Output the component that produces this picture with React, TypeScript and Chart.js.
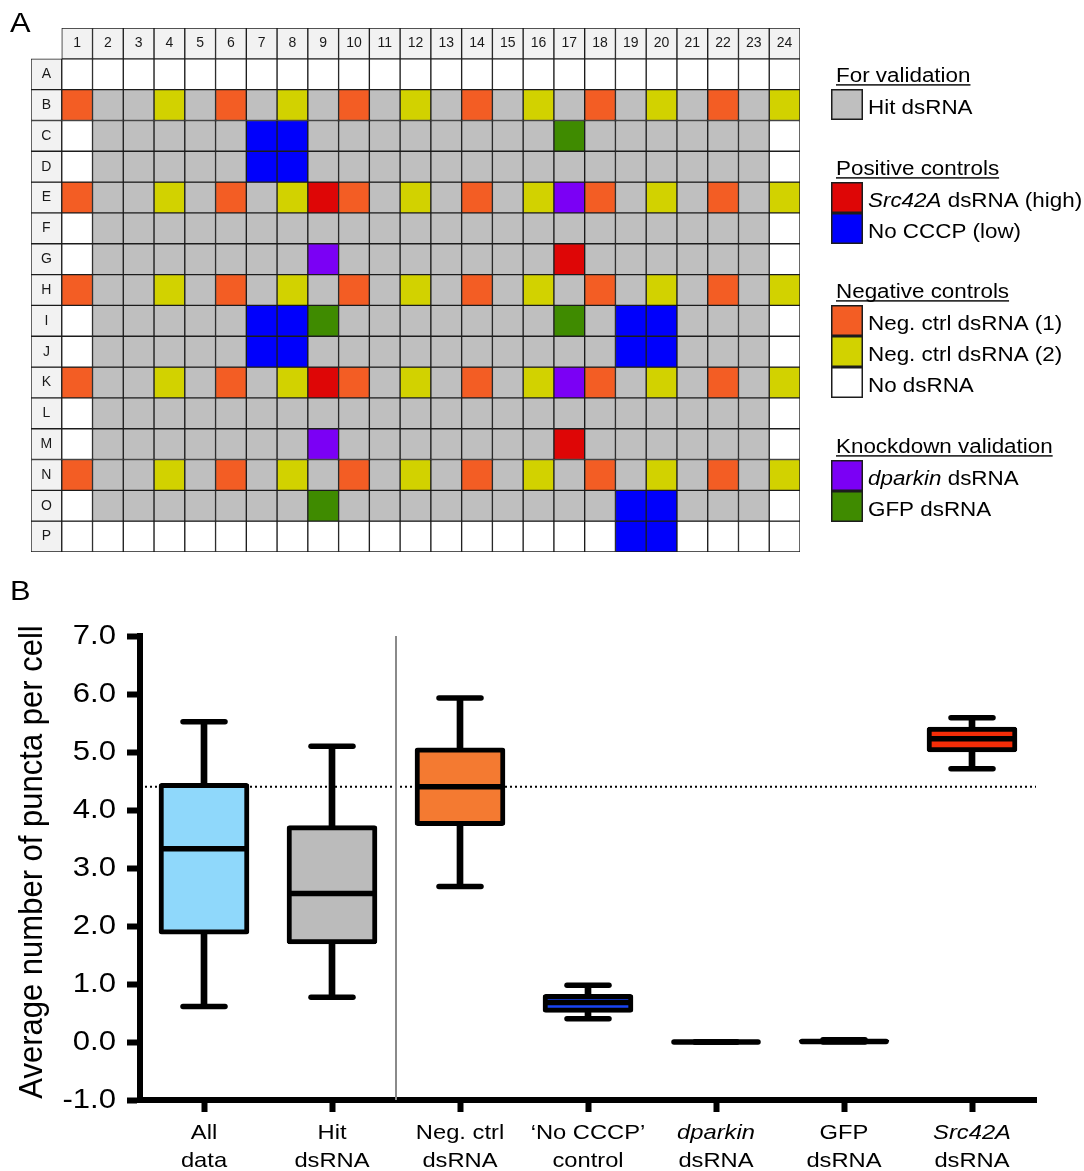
import React, { useEffect, useRef } from 'react';
import { Chart, registerables } from 'chart.js';

Chart.register(...registerables);

const FONT = '"Liberation Sans", Arial, Helvetica, sans-serif';
const STRETCH = 1.12;

// ---------------- Panel A: 384-well plate layout ----------------
const PLATE_COLUMNS = ['1', '2', '3', '4', '5', '6', '7', '8', '9', '10', '11', '12', '13', '14', '15', '16', '17', '18', '19', '20', '21', '22', '23', '24'];
const PLATE_ROWS = ['A', 'B', 'C', 'D', 'E', 'F', 'G', 'H', 'I', 'J', 'K', 'L', 'M', 'N', 'O', 'P'];
// w = no dsRNA, h = hit dsRNA, o = neg ctrl (1), y = neg ctrl (2), r = Src42A, b = No CCCP, p = dparkin, g = GFP
const PLATE_LAYOUT = [
  'w w w w w w w w w w w w w w w w w w w w w w w w', // A
  'o h h y h o h y h o h y h o h y h o h y h o h y', // B
  'w h h h h h b b h h h h h h h h g h h h h h h w', // C
  'w h h h h h b b h h h h h h h h h h h h h h h w', // D
  'o h h y h o h y r o h y h o h y p o h y h o h y', // E
  'w h h h h h h h h h h h h h h h h h h h h h h w', // F
  'w h h h h h h h p h h h h h h h r h h h h h h w', // G
  'o h h y h o h y h o h y h o h y h o h y h o h y', // H
  'w h h h h h b b g h h h h h h h g h b b h h h w', // I
  'w h h h h h b b h h h h h h h h h h b b h h h w', // J
  'o h h y h o h y r o h y h o h y p o h y h o h y', // K
  'w h h h h h h h h h h h h h h h h h h h h h h w', // L
  'w h h h h h h h p h h h h h h h r h h h h h h w', // M
  'o h h y h o h y h o h y h o h y h o h y h o h y', // N
  'w h h h h h h h g h h h h h h h h h b b h h h w', // O
  'w w w w w w w w w w w w w w w w w w b b w w w w', // P
];
const WELL_COLORS: Record<string, string> = {
  w: '#ffffff',
  h: '#bfbfbf',
  o: '#f35d24',
  y: '#d2d200',
  r: '#de0606',
  b: '#0000fc',
  p: '#7b00f5',
  g: '#3f8b00',
};
const HEADER_COLOR = '#f2f2f2';

type Seg = { text: string; italic?: boolean };

const LEGEND_TITLES = ['For validation', 'Positive controls', 'Negative controls', 'Knockdown validation'];
const LEGEND_ITEMS: { code: string; label: Seg[] }[][] = [
  [{ code: 'h', label: [{ text: 'Hit dsRNA' }] }],
  [
    { code: 'r', label: [{ text: 'Src42A', italic: true }, { text: ' dsRNA (high)' }] },
    { code: 'b', label: [{ text: 'No CCCP (low)' }] },
  ],
  [
    { code: 'o', label: [{ text: 'Neg. ctrl dsRNA (1)' }] },
    { code: 'y', label: [{ text: 'Neg. ctrl dsRNA (2)' }] },
    { code: 'w', label: [{ text: 'No dsRNA' }] },
  ],
  [
    { code: 'p', label: [{ text: 'dparkin', italic: true }, { text: ' dsRNA' }] },
    { code: 'g', label: [{ text: 'GFP dsRNA' }] },
  ],
];
const LEGEND_TITLE_BASELINES = [82, 175, 298, 453];

// ---------------- Panel B: box plot ----------------
const GROUP_NAMES = ['All data', 'Hit dsRNA', 'Neg. ctrl dsRNA', '\u2018No CCCP\u2019 control', 'dparkin dsRNA', 'GFP dsRNA', 'Src42A dsRNA'];
const GROUP_LABEL_LINES: Seg[][][] = [
  [[{ text: 'All' }], [{ text: 'data' }]],
  [[{ text: 'Hit' }], [{ text: 'dsRNA' }]],
  [[{ text: 'Neg. ctrl' }], [{ text: 'dsRNA' }]],
  [[{ text: '\u2018No CCCP\u2019' }], [{ text: 'control' }]],
  [[{ text: 'dparkin', italic: true }], [{ text: 'dsRNA' }]],
  [[{ text: 'GFP' }], [{ text: 'dsRNA' }]],
  [[{ text: 'Src42A', italic: true }], [{ text: 'dsRNA' }]],
];
const MINS = [0.61, 0.77, 2.68, 0.4, 0.0, 0.0, 4.71];
const Q1S = [1.86, 1.69, 3.73, 0.51, 0.0, 0.0, 5.0];
const MEDIANS = [3.33, 2.56, 4.4, 0.68, 0.0, 0.01, 5.23];
const Q3S = [4.46, 3.73, 5.07, 0.82, 0.0, 0.03, 5.43];
const MAXS = [5.52, 5.1, 5.93, 0.98, 0.0, 0.04, 5.59];
const REFERENCE_LEVEL = 4.4;
const Y_TICK_VALUES = [-1, 0, 1, 2, 3, 4, 5, 6, 7];
const BOX_COLORS = ['#8fd8fb', '#bbbbbb', '#f47a31', '#1844f4', '#ffffff', '#ffffff', '#f42d08'];

const LINE_W = 6;
const BOX_BORDER_W = 5;
const MARK_W = 5.5;

function drawSegs(
  ctx: CanvasRenderingContext2D,
  segs: Seg[],
  x: number,
  y: number,
  size: number,
  align: 'left' | 'center' | 'right',
  opts: { stretch?: number; baseline?: CanvasTextBaseline; underline?: boolean; color?: string } = {}
) {
  const stretch = opts.stretch ?? 1;
  ctx.save();
  const fontOf = (s: Seg) => `${s.italic ? 'italic ' : ''}${size}px ${FONT}`;
  const widths = segs.map((s) => {
    ctx.font = fontOf(s);
    return ctx.measureText(s.text).width;
  });
  const total = widths.reduce((a, b) => a + b, 0);
  ctx.translate(x, y);
  ctx.scale(stretch, 1);
  let cx = align === 'left' ? 0 : align === 'center' ? -total / 2 : -total;
  const start = cx;
  ctx.textAlign = 'left';
  ctx.textBaseline = opts.baseline ?? 'alphabetic';
  ctx.fillStyle = opts.color ?? '#000';
  segs.forEach((s, i) => {
    ctx.font = fontOf(s);
    ctx.fillText(s.text, cx, 0);
    cx += widths[i];
  });
  if (opts.underline) ctx.fillRect(start, 2.2, total, 1.4);
  ctx.restore();
}

export default function App() {
  const refA = useRef<HTMLCanvasElement>(null);
  const refB = useRef<HTMLCanvasElement>(null);

  useEffect(() => {
    // ---------- Chart A ----------
    const xLabelsA = ['', ...PLATE_COLUMNS];
    const rowsA = ['', ...PLATE_ROWS];
    const wells = PLATE_LAYOUT.map((r) => r.split(' '));
    const datasetsA = rowsA.map((rowName, ri) => ({
      label: rowName || 'header',
      data: xLabelsA.map((_, ci) => (ri === 0 && ci === 0 ? null : [ri, ri + 1])),
      backgroundColor: xLabelsA.map((_, ci) =>
        ri === 0 || ci === 0 ? HEADER_COLOR : WELL_COLORS[wells[ri - 1][ci - 1]]
      ),
      borderColor: '#1c1c1c',
      borderWidth: 1,
      borderSkipped: false,
      grouped: false,
      barPercentage: 1,
      categoryPercentage: 1,
    }));

    const plateText = {
      id: 'plateText',
      afterDatasetsDraw(chart: any) {
        const ctx = chart.ctx;
        const xs = chart.scales.x;
        const ys = chart.scales.y;
        PLATE_COLUMNS.forEach((c, i) =>
          drawSegs(ctx, [{ text: c }], xs.getPixelForValue(i + 1), ys.getPixelForValue(0.5), 14, 'center', {
            baseline: 'middle',
            color: '#1a1a1a',
          })
        );
        PLATE_ROWS.forEach((r, i) =>
          drawSegs(ctx, [{ text: r }], xs.getPixelForValue(0), ys.getPixelForValue(i + 1.5), 14, 'center', {
            baseline: 'middle',
            color: '#1a1a1a',
          })
        );
      },
      afterDraw(chart: any) {
        const ctx = chart.ctx;
        drawSegs(ctx, [{ text: 'A' }], 10, 31.5, 28, 'left', { stretch: 1.1 });
        LEGEND_ITEMS.forEach((items, gi) => {
          const tb = LEGEND_TITLE_BASELINES[gi];
          drawSegs(ctx, [{ text: LEGEND_TITLES[gi] }], 836, tb, 20, 'left', { stretch: STRETCH, underline: true });
          items.forEach((it, ii) => {
            const top = tb + 7 + ii * 31;
            ctx.save();
            ctx.fillStyle = WELL_COLORS[it.code];
            ctx.fillRect(831, top, 32, 31);
            ctx.strokeStyle = '#1c1c1c';
            ctx.lineWidth = 1.5;
            ctx.strokeRect(831.75, top + 0.75, 30.5, 29.5);
            ctx.restore();
            drawSegs(ctx, it.label, 868, top + 25, 20, 'left', { stretch: STRETCH });
          });
        });
      },
    };

    const chartA = new Chart(refA.current as HTMLCanvasElement, {
      type: 'bar',
      data: { labels: xLabelsA, datasets: datasetsA as any },
      options: {
        responsive: false,
        animation: false,
        events: [],
        layout: { padding: { left: 31, top: 28, right: 284, bottom: 18 } },
        plugins: { legend: { display: false }, tooltip: { enabled: false } },
        scales: {
          x: { type: 'category', display: false, offset: true },
          y: { type: 'linear', display: false, reverse: true, min: 0, max: rowsA.length },
        },
      } as any,
      plugins: [plateText],
    });

    // ---------- Chart B ----------
    const boxText = {
      id: 'boxText',
      beforeDatasetDraw(chart: any) {
        chart.ctx.lineCap = 'round';
      },
      afterDraw(chart: any) {
        const ctx = chart.ctx;
        const xs = chart.scales.x;
        const ys = chart.scales.y;
        const area = chart.chartArea;
        Y_TICK_VALUES.forEach((v) =>
          drawSegs(ctx, [{ text: v.toFixed(1) }], 116, ys.getPixelForValue(v), 27.5, 'right', {
            stretch: 1.13,
            baseline: 'middle',
          })
        );
        GROUP_LABEL_LINES.forEach((lines, i) => {
          const x = xs.getPixelForValue(i);
          lines.forEach((segs, li) =>
            drawSegs(ctx, segs, x, area.bottom + 38.5 + li * 28, 21, 'center', { stretch: 1.13 })
          );
        });
        ctx.save();
        ctx.translate(33, (area.top + area.bottom) / 2 - 6);
        ctx.rotate(-Math.PI / 2);
        ctx.scale(1, 1.08);
        drawSegs(ctx, [{ text: 'Average number of puncta per cell' }], 0, 0, 31, 'center', { baseline: 'middle' });
        ctx.restore();
        drawSegs(ctx, [{ text: 'B' }], 10, 30, 28, 'left', { stretch: 1.1 });
      },
    };

    const chartB = new Chart(refB.current as HTMLCanvasElement, {
      type: 'bar',
      data: {
        labels: GROUP_NAMES,
        datasets: [
          {
            type: 'line',
            label: 'reference',
            xAxisID: 'x2',
            data: [
              { x: 0, y: REFERENCE_LEVEL },
              { x: GROUP_NAMES.length, y: REFERENCE_LEVEL },
            ],
            borderColor: '#000',
            borderWidth: 2,
            borderDash: [2, 3],
            pointRadius: 0,
            order: 20,
          },
          {
            type: 'line',
            label: 'separator',
            xAxisID: 'x2',
            data: [
              { x: 2, y: -1 },
              { x: 2, y: 7 },
            ],
            borderColor: '#8a8a8a',
            borderWidth: 2,
            pointRadius: 0,
            order: 19,
            clip: false,
          },
          {
            type: 'bar',
            label: 'whiskers',
            data: MINS.map((m, i) => [m, MAXS[i]]),
            backgroundColor: '#000',
            borderWidth: 0,
            barThickness: LINE_W,
            grouped: false,
            order: 10,
          },
          {
            type: 'bar',
            label: 'boxes',
            data: Q1S.map((q, i) => [q, Q3S[i]]),
            backgroundColor: BOX_COLORS,
            borderColor: '#000',
            borderWidth: BOX_BORDER_W,
            borderSkipped: false,
            borderRadius: 3,
            barThickness: 90,
            grouped: false,
            order: 5,
          },
          {
            type: 'line',
            label: 'medians',
            data: MEDIANS,
            showLine: false,
            pointStyle: 'line',
            pointRadius: 42,
            pointBorderWidth: MARK_W,
            pointBorderColor: '#000',
            pointBackgroundColor: '#000',
            order: 1,
            clip: false,
          },
          {
            type: 'line',
            label: 'max',
            data: MAXS,
            showLine: false,
            pointStyle: 'line',
            pointRadius: 21,
            pointBorderWidth: MARK_W,
            pointBorderColor: '#000',
            order: 1,
            clip: false,
          },
          {
            type: 'line',
            label: 'min',
            data: MINS,
            showLine: false,
            pointStyle: 'line',
            pointRadius: 21,
            pointBorderWidth: MARK_W,
            pointBorderColor: '#000',
            order: 1,
            clip: false,
          },
        ] as any,
      },
      options: {
        responsive: false,
        animation: false,
        events: [],
        layout: { padding: { left: 0, right: 48, top: 66, bottom: 0 } },
        plugins: { legend: { display: false }, tooltip: { enabled: false } },
        scales: {
          x: {
            type: 'category',
            offset: true,
            grid: {
              display: true,
              drawOnChartArea: false,
              drawTicks: true,
              tickLength: 12,
              tickWidth: LINE_W,
              tickColor: '#000',
              offset: false,
            },
            border: { display: true, width: LINE_W, color: '#000' },
            ticks: { display: false },
            afterFit: (s: any) => {
              s.height = 71;
            },
          },
          x2: { type: 'linear', display: false, offset: false, min: 0, max: GROUP_NAMES.length },
          y: {
            type: 'linear',
            min: -1,
            max: 7,
            ticks: { display: false, stepSize: 1 },
            grid: {
              display: true,
              drawOnChartArea: false,
              drawTicks: true,
              tickLength: 13,
              tickWidth: LINE_W,
              tickColor: '#000',
            },
            border: { display: true, width: LINE_W, color: '#000' },
            afterFit: (s: any) => {
              s.width = 140;
            },
          },
        },
      } as any,
      plugins: [boxText],
    });

    return () => {
      chartA.destroy();
      chartB.destroy();
    };
  }, []);

  return (
    <div style={{ position: 'absolute', left: 0, top: 0, width: 1084, height: 1171, background: '#fff' }}>
      <canvas ref={refA} width={1084} height={570} style={{ position: 'absolute', left: 0, top: 0 }} />
      <canvas ref={refB} width={1084} height={601} style={{ position: 'absolute', left: 0, top: 570 }} />
    </div>
  );
}
